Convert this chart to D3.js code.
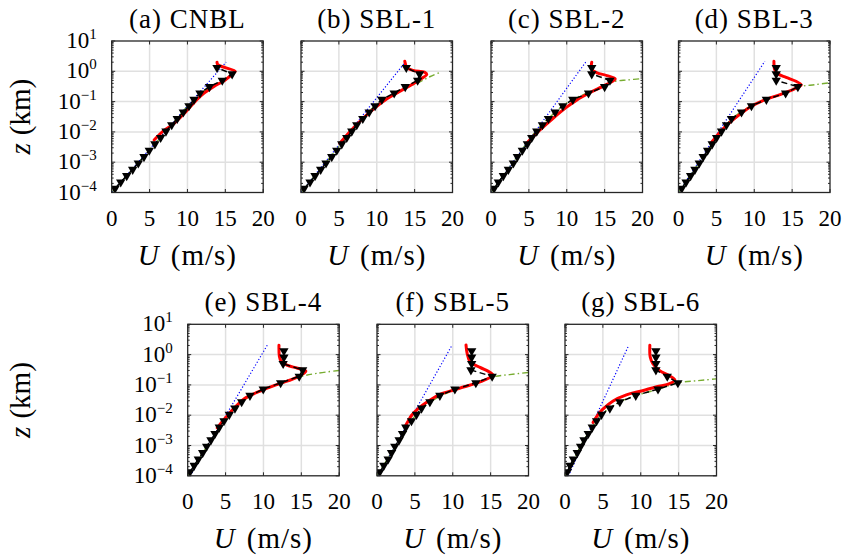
<!DOCTYPE html>
<html>
<head>
<meta charset="utf-8">
<script src="https://cdn.jsdelivr.net/npm/d3@7"></script>
<style>
  body { margin: 0; background: #fff; }
  svg { display: block; }
  text { font-family: "Liberation Serif", "Times New Roman", serif; fill: #000; }
</style>
</head>
<body>
<svg id="fig" width="845" height="559"></svg>
<script>
// Panel titles, one per case
const panelTitles = ["(a) CNBL", "(b) SBL-1", "(c) SBL-2", "(d) SBL-3", "(e) SBL-4", "(f) SBL-5", "(g) SBL-6"];

// Axis ticks
const uTicks = [0, 5, 10, 15, 20];
const zDecades = [1e-4, 1e-3, 1e-2, 1e-1, 1, 10];
const zExponents = ["\u22124", "\u22123", "\u22122", "\u22121", "0", "1"];

// Heights (km) of the model levels shown with markers
const zLevels = [1.35e-4, 2.19e-4, 3.55e-4, 5.75e-4, 9.33e-4, 1.51e-3, 2.45e-3, 3.98e-3, 6.46e-3, 1.05e-2,
                 1.70e-2, 2.75e-2, 4.47e-2, 7.24e-2, 0.117, 0.191, 0.309, 0.501, 0.813, 1.32];

// Model wind speed (m/s) at zLevels, one row per case
const modelU = [
  [0.44, 1.19, 1.98, 2.77, 3.51, 4.26, 4.96, 5.70, 6.46, 7.16, 7.92, 8.65, 9.45, 10.2, 10.86, 11.65, 12.9, 14.6, 15.9, 13.9],
  [0.40, 1.19, 1.85, 2.60, 3.30, 4.06, 4.72, 5.38, 6.04, 6.70, 7.36, 8.16, 9.00, 9.78, 10.67, 12.3, 13.76, 15.4, 15.65, 13.9],
  [0.40, 0.97, 1.63, 2.29, 2.95, 3.48, 4.14, 4.80, 5.38, 6.04, 6.79, 7.58, 8.47, 9.48, 10.8, 12.87, 15.0, 15.7, 13.3, 13.3],
  [0.42, 1.00, 1.60, 2.17, 2.74, 3.26, 3.84, 4.45, 5.03, 5.68, 6.34, 7.00, 8.32, 9.63, 11.6, 14.14, 15.76, 12.9, 12.9, 12.9],
  [0.30, 0.85, 1.40, 1.98, 2.50, 3.07, 3.60, 4.17, 4.79, 5.49, 6.24, 7.12, 8.22, 9.97, 12.27, 14.72, 15.17, 12.6, 12.7, 12.7],
  [0.37, 0.90, 1.47, 1.92, 2.35, 2.92, 3.37, 3.80, 4.55, 5.21, 5.88, 6.98, 8.30, 10.28, 13.05, 15.2, 12.4, 12.5, 12.5, 12.5],
  [0.31, 0.66, 1.10, 1.62, 2.06, 2.50, 3.07, 3.60, 4.17, 4.82, 5.92, 7.24, 9.34, 12.28, 14.9, 13.5, 12.0, 12.0, 12.0, 12.0]
];

// LES profiles [U (m/s), z (km)]
const lesProfiles = [
  [[5.6, 0.00537], [6.9, 0.0112], [8.1, 0.0178], [9.8, 0.0468], [11.3, 0.120], [12.2, 0.191], [13.5, 0.316], [14.9, 0.501], [16.0, 0.832], [16.3, 1.0], [15.0, 1.32], [14.0, 1.66], [13.9, 2.0]],
  [[5.1, 0.00417], [6.6, 0.0112], [8.2, 0.0282], [9.8, 0.0631], [11.4, 0.126], [12.9, 0.209], [14.2, 0.316], [15.5, 0.501], [16.6, 0.794], [16.3, 0.933], [14.8, 1.07], [14.0, 1.32], [13.7, 2.14]],
  [[4.7, 0.00417], [6.4, 0.0112], [8.2, 0.0282], [9.9, 0.0631], [11.3, 0.112], [13.1, 0.200], [15.2, 0.363], [16.4, 0.562], [15.3, 0.724], [14.0, 0.891], [13.3, 1.15], [13.3, 2.0]],
  [[4.4, 0.00468], [5.5, 0.01], [6.5, 0.0178], [7.8, 0.0331], [9.3, 0.0631], [11.3, 0.112], [13.5, 0.174], [15.3, 0.263], [16.2, 0.355], [15.5, 0.468], [14.2, 0.631], [13.1, 0.832], [12.7, 1.12], [12.6, 2.14]],
  [[3.9, 0.00380], [4.6, 0.00631], [5.3, 0.01], [6.2, 0.0178], [7.7, 0.0380], [10.0, 0.0692], [12.2, 0.112], [14.4, 0.178], [15.6, 0.282], [14.5, 0.355], [13.1, 0.447], [12.3, 0.631], [12.1, 0.891], [12.05, 2.04]],
  [[3.7, 0.00417], [4.1, 0.00631], [4.55, 0.00977], [5.4, 0.0162], [6.75, 0.0288], [8.3, 0.0490], [10.3, 0.0692], [11.4, 0.0851], [13.6, 0.126], [15.3, 0.209], [15.0, 0.251], [13.6, 0.380], [12.3, 0.575], [11.9, 1.10], [11.75, 2.09]],
  [[3.7, 0.00575], [4.25, 0.00955], [5.0, 0.0158], [6.35, 0.0295], [8.1, 0.0468], [10.1, 0.0631], [12.1, 0.0871], [13.8, 0.110], [14.5, 0.145], [13.8, 0.200], [12.5, 0.295], [11.6, 0.501], [11.25, 0.832], [11.2, 2.04]]
];

// Similarity-theory profiles [U (m/s), z (km)]
const mostProfiles = [
  [[0, 1e-4], [3.5, 9.55e-4], [7.2, 0.0107], [10.9, 0.120], [13.0, 0.302], [14.7, 0.501], [15.9, 0.794], [16.2, 1.15]],
  [[0, 1e-4], [3.3, 0.001], [6.6, 0.01], [9.5, 0.0631], [11.5, 0.141], [13.5, 0.263], [15.5, 0.427], [17.0, 0.661], [18.5, 0.955]],
  [[0, 1e-4], [2.3, 6.17e-4], [4.1, 0.00263], [6.0, 0.0112], [7.6, 0.0282], [9.5, 0.0741], [10.8, 0.120], [12.9, 0.200], [15.0, 0.339], [16.2, 0.457], [18.0, 0.519], [20.0, 0.575]],
  [[0, 1e-4], [2.2, 6.31e-4], [4.0, 0.00251], [5.7, 0.01], [7.0, 0.0269], [8.3, 0.0468], [9.6, 0.0724], [11.6, 0.120], [14.1, 0.191], [15.8, 0.302], [18.0, 0.363], [20.0, 0.417]],
  [[0, 1e-4], [1.0, 2.09e-4], [2.0, 5.75e-4], [3.1, 0.00148], [4.2, 0.00372], [5.5, 0.00955], [6.2, 0.0158], [7.1, 0.0269], [8.2, 0.0417], [10.0, 0.0692], [12.3, 0.110], [14.7, 0.182], [17.0, 0.240], [20.0, 0.30]],
  [[0, 1e-4], [0.9, 2.29e-4], [1.9, 5.89e-4], [2.9, 0.00151], [3.8, 0.00417], [4.5, 0.00661], [5.2, 0.0105], [5.9, 0.0162], [7.0, 0.0269], [8.3, 0.0417], [10.3, 0.0692], [13.0, 0.110], [15.2, 0.182], [17.5, 0.219], [20.0, 0.257]],
  [[0, 1e-4], [0.7, 2.19e-4], [1.6, 5.75e-4], [2.5, 0.00151], [3.6, 0.00398], [4.8, 0.0105], [5.9, 0.0170], [7.2, 0.0275], [9.3, 0.0437], [12.3, 0.0724], [14.9, 0.117], [17.5, 0.138], [20.0, 0.158]]
];

// Neutral log-law lines [U (m/s), z (km)]
const logLaw = [
  [[0, 1.02e-4], [15.1, 2.0]],
  [[0, 1.02e-4], [13.6, 1.78]],
  [[0, 1e-4], [12.5, 2.0]],
  [[0, 1e-4], [11.4, 2.14]],
  [[0.34, 1e-4], [10.5, 2.04]],
  [[0.2, 1e-4], [9.84, 1.91]],
  [[0.45, 1e-4], [8.42, 2.04]]
];

// Panel placement
const panelLeft = [111.7, 301, 491, 678.5, 187.7, 377, 565];
const panelTop = [41, 41, 41, 41, 324.3, 324.3, 324.3];
const W = 151.5, H = 151.5;
const withYLabels = [true, false, false, false, true, false, false];

const svg = d3.select("#fig");
const defs = svg.append("defs");
const axisColor = "#262626";

panelTitles.forEach((title, p) => {
  const left = panelLeft[p], top = panelTop[p];
  const x = d3.scaleLinear().domain([0, 20]).range([left, left + W]);
  const y = d3.scaleLog().domain([1e-4, 10]).range([top + H, top]);
  const g = svg.append("g");

  defs.append("clipPath").attr("id", "clip" + p)
    .append("rect").attr("x", left).attr("y", top).attr("width", W).attr("height", H);

  // grid
  g.selectAll(".gx").data(uTicks.slice(1, -1)).join("line")
    .attr("x1", d => x(d)).attr("x2", d => x(d)).attr("y1", top).attr("y2", top + H)
    .attr("stroke", "#e0e0e0").attr("stroke-width", 1.5);
  g.selectAll(".gy").data(zDecades.slice(1, -1)).join("line")
    .attr("y1", d => y(d)).attr("y2", d => y(d)).attr("x1", left).attr("x2", left + W)
    .attr("stroke", "#e0e0e0").attr("stroke-width", 1.5);

  // ticks (inward): x majors top & bottom, y majors and log minors left & right
  const tk = g.append("g").attr("stroke", axisColor).attr("stroke-width", 1);
  uTicks.forEach(v => {
    tk.append("line").attr("x1", x(v)).attr("x2", x(v)).attr("y1", top + H).attr("y2", top + H - 3.5);
    tk.append("line").attr("x1", x(v)).attr("x2", x(v)).attr("y1", top).attr("y2", top + 3.5);
  });
  zDecades.forEach((dec, i) => {
    const yy = y(dec);
    tk.append("line").attr("x1", left).attr("x2", left + 3.5).attr("y1", yy).attr("y2", yy);
    tk.append("line").attr("x1", left + W).attr("x2", left + W - 3.5).attr("y1", yy).attr("y2", yy);
    if (i < zDecades.length - 1) {
      for (let m = 2; m <= 9; m++) {
        const ym = y(dec * m);
        tk.append("line").attr("x1", left).attr("x2", left + 2).attr("y1", ym).attr("y2", ym);
        tk.append("line").attr("x1", left + W).attr("x2", left + W - 2).attr("y1", ym).attr("y2", ym);
      }
    }
  });

  // data layer
  const plot = g.append("g").attr("clip-path", `url(#clip${p})`);
  const line = d3.line().x(d => x(d[0])).y(d => y(d[1]));
  const smooth = d3.line().x(d => x(d[0])).y(d => y(d[1])).curve(d3.curveCatmullRom.alpha(0.5));

  plot.append("path").datum(mostProfiles[p]).attr("d", smooth)
    .attr("fill", "none").attr("stroke", "#77AC30").attr("stroke-width", 1.4)
    .attr("stroke-dasharray", "6,3,1.5,3");
  plot.append("path").datum(logLaw[p]).attr("d", line)
    .attr("fill", "none").attr("stroke", "#0000ff").attr("stroke-width", 1.2)
    .attr("stroke-dasharray", "1.2,2");
  plot.append("path").datum(lesProfiles[p]).attr("d", smooth)
    .attr("fill", "none").attr("stroke", "#ff0000").attr("stroke-width", 3)
    .attr("stroke-linejoin", "round").attr("stroke-linecap", "round");

  const model = zLevels.map((z, i) => [modelU[p][i], z]);
  plot.append("path").datum(model).attr("d", line)
    .attr("fill", "none").attr("stroke", "#000").attr("stroke-width", 1.5)
    .attr("stroke-dasharray", "6,3.5");
  plot.selectAll(".mk").data(model).join("path")
    .attr("d", d3.symbol(d3.symbolTriangle, 38))
    .attr("transform", d => `translate(${x(d[0])},${y(d[1])}) rotate(180)`)
    .attr("fill", "#000");

  // box
  g.append("rect").attr("x", left).attr("y", top).attr("width", W).attr("height", H)
    .attr("fill", "none").attr("stroke", axisColor).attr("stroke-width", 1.3);

  // x tick labels
  g.selectAll(".xl").data(uTicks).join("text")
    .attr("x", d => x(d)).attr("y", top + H + 33)
    .attr("text-anchor", "middle").attr("font-size", 23).text(d => d);

  // x axis label
  const xl = g.append("text").attr("x", left + W / 2).attr("y", top + H + 72)
    .attr("text-anchor", "middle").attr("font-size", 29);
  xl.append("tspan").attr("font-style", "italic").text("U");
  xl.append("tspan").attr("dx", 12).attr("letter-spacing", 1).text("(m/s)");

  // title
  g.append("text").attr("x", left + W / 2).attr("y", top - 13.5)
    .attr("text-anchor", "middle").attr("font-size", 27).attr("letter-spacing", 1).text(title);

  if (withYLabels[p]) {
    zDecades.forEach((dec, i) => {
      const t = g.append("text").attr("x", left - 15).attr("y", y(dec) + 7)
        .attr("text-anchor", "end").attr("font-size", 23);
      t.append("tspan").text("10");
      t.append("tspan").attr("dy", -9).attr("font-size", 15).text(zExponents[i]);
    });
    const yl = g.append("text")
      .attr("transform", `translate(30,${top + H / 2}) rotate(-90)`)
      .attr("text-anchor", "middle").attr("font-size", 29);
    yl.append("tspan").attr("font-style", "italic").text("z");
    yl.append("tspan").attr("dx", 8).text("(km)");
  }
});
</script>
</body>
</html>
